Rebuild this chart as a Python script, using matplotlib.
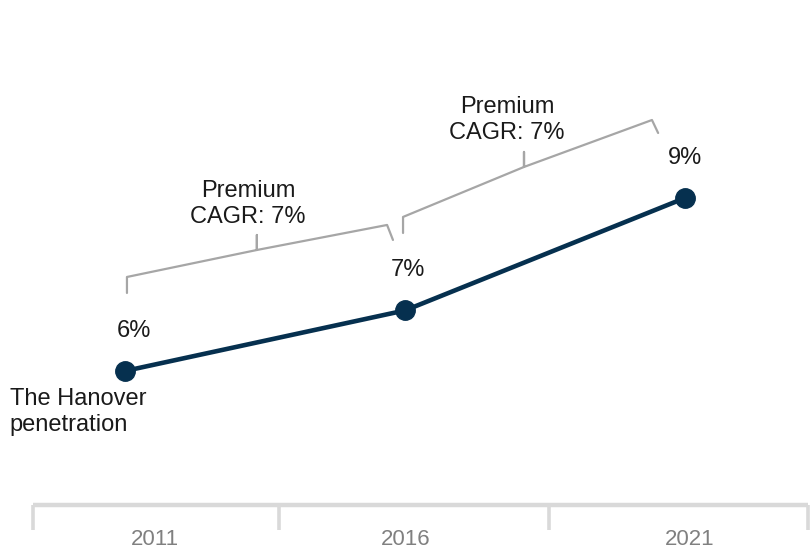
import matplotlib.pyplot as plt
import numpy as np

years = ['2011', '2016', '2021']
penetration = [6.0, 7.05, 9.0]
point_labels = ['6%', '7%', '9%']
bracket_text = ['Premium\nCAGR: 7%', 'Premium\nCAGR: 7%']

plt.rcParams['font.family'] = ['Liberation Sans', 'DejaVu Sans']

navy = '#06304f'
bracket_grey = '#a6a6a6'
axis_grey = '#d9d9d9'

fig = plt.figure(figsize=(8.1, 5.49), dpi=100)
ax = fig.add_axes([0, 0, 1, 1])
x = np.arange(len(years))

ax.plot(x, penetration, color=navy, lw=3.3, marker='o', ms=14,
        solid_capstyle='round', zorder=3)

# value labels above the points
dx = [6.5, 2, 0]
for xi, yi, lab, d in zip(x, penetration, point_labels, dx):
    ax.annotate(lab, (xi, yi), xytext=(d, 28.8), textcoords='offset points',
                ha='center', va='center', fontsize=17, color='#1a1a1a')

# CAGR brackets
def bracket(x0, x1, xn, y_end0, y_c0, y_n, y_tip, y_c1, y_end1, x_end1):
    xs = [x0, x0, xn, xn, xn, x1, x_end1]
    ys = [y_end0, y_c0, y_n, y_tip, y_n, y_c1, y_end1]
    ax.plot(xs, ys, color=bracket_grey, lw=1.6, solid_joinstyle='round',
            solid_capstyle='round', zorder=2)

bracket(0.007, 0.936, 0.471, 7.353, 7.630, 8.098, 8.358, 8.532, 8.272, 0.957)
bracket(0.993, 1.882, 1.425, 8.393, 8.671, 9.538, 9.798, 10.352, 10.127, 1.904)

ax.text(0.439, 8.896, bracket_text[0], ha='center', va='center',
        fontsize=17, color='#1a1a1a', linespacing=1.2)
ax.text(1.364, 10.352, bracket_text[1], ha='center', va='center',
        fontsize=17, color='#1a1a1a', linespacing=1.2)

ax.text(-0.411, 5.289, 'The Hanover\npenetration', ha='left', va='center',
        fontsize=17, color='#1a1a1a', linespacing=1.2)

ax.set_xlim(-0.4464, 2.4464)
ax.set_ylim(2.913, 12.433)

# category axis at the bottom
for s in ['top', 'right', 'left']:
    ax.spines[s].set_visible(False)
ax.spines['bottom'].set_position(('data', 3.677))
ax.spines['bottom'].set_bounds(-0.329, 2.439)
ax.spines['bottom'].set_color(axis_grey)
ax.spines['bottom'].set_linewidth(3.2)
ax.spines['bottom'].set_capstyle('butt')

ax.set_xticks([-0.329, 0.55, 1.514, 2.439])
ax.set_xticklabels([])
ax.tick_params(axis='x', which='major', length=18, width=2.6,
               color=axis_grey, direction='out')
ax.set_xticks([0.107, 1.004, 2.018], minor=True)
ax.set_xticklabels(years, minor=True)
ax.tick_params(axis='x', which='minor', length=0, pad=17,
               labelsize=16, labelcolor='#808080')
ax.set_yticks([])

fig.savefig('out.png', dpi=100)
